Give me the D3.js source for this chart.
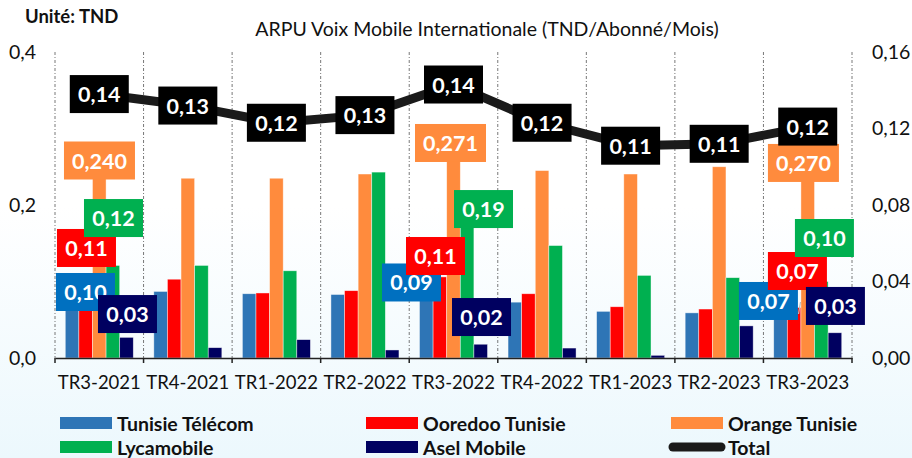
<!DOCTYPE html>
<html><head><meta charset="utf-8">
<script src="https://cdn.jsdelivr.net/npm/d3@7"></script>
<style>
html,body{margin:0;padding:0;}
body{width:912px;height:458px;overflow:hidden;}
text{font-family:Lato,"Open Sans",sans-serif;}
</style></head>
<body>
<svg id="chart" width="912" height="458"></svg>
<script>
const categories = ["TR3-2021","TR4-2021","TR1-2022","TR2-2022","TR3-2022","TR4-2022","TR1-2023","TR2-2023","TR3-2023"];
const tunisieTelecom = [0.097,0.087,0.084,0.083,0.088,0.073,0.061,0.059,0.068];
const ooredoo        = [0.108,0.103,0.085,0.088,0.106,0.084,0.067,0.064,0.066];
const orange         = [0.240,0.235,0.235,0.2405,0.271,0.245,0.2405,0.250,0.270];
const lycamobile     = [0.121,0.121,0.114,0.243,0.190,0.147,0.108,0.105,0.100];
const aselMobile     = [0.027,0.0135,0.024,0.0105,0.018,0.013,0.0035,0.042,0.033];
const total          = [0.138,0.132,0.123,0.127,0.143,0.123,0.111,0.112,0.121];
const leftTicks  = [0, 0.2, 0.4];
const rightTicks = [0, 0.04, 0.08, 0.12, 0.16];
const seriesNames = ["Tunisie Télécom","Ooredoo Tunisie","Orange Tunisie","Lycamobile","Asel Mobile"];
const labelledCats = [0, 4, 8];

const series = [
  {name: seriesNames[0], values: tunisieTelecom, color: "#2e75b6", box: "#0070c0", dec: 2},
  {name: seriesNames[1], values: ooredoo,        color: "#ff0000", box: "#ff0000", dec: 2},
  {name: seriesNames[2], values: orange,         color: "#ff8b3d", box: "#ff8b3d", dec: 3},
  {name: seriesNames[3], values: lycamobile,     color: "#00b050", box: "#00b050", dec: 2},
  {name: seriesNames[4], values: aselMobile,     color: "#000060", box: "#000060", dec: 2}
];
// manual label placement (dx, dy relative to bar centre / bar top), per labelled category
const labelShift = [
  [[13.4, 8.2],[0.8,-27.4],[0.2,-13.9],[0.6,-47.4],[1,-23.3]],
  [[-14.8,-8.2],[-4.4,-20.9],[-3,-7.7],[16.4,-3.6],[0.8,-27.2]],
  [[-12.1,-5],[3.3,-36.5],[-4.3,11.5],[3.1,-43.5],[0.5,-26.8]]
];

const svg = d3.select("#chart");
const defs = svg.append("defs");
const grad = defs.append("linearGradient").attr("id","bg").attr("x1",0).attr("y1",0).attr("x2",0).attr("y2",1);
grad.append("stop").attr("offset","0%").attr("stop-color","#ffffff");
grad.append("stop").attr("offset","45%").attr("stop-color","#ffffff");
grad.append("stop").attr("offset","100%").attr("stop-color","#ecf8fd");
svg.append("rect").attr("width",912).attr("height",458).attr("fill","url(#bg)");

const pLeft = 55, pRight = 852, pTop = 52, pBottom = 358;
const x0 = d3.scaleBand().domain(categories).range([pLeft, pRight]).padding(0);
const bw = x0.bandwidth();
const x1 = d3.scaleBand().domain(seriesNames).range([bw*0.116, bw*0.884]).padding(0);
const y = d3.scaleLinear().domain([0, 0.4]).range([pBottom, pTop]);
const y2 = d3.scaleLinear().domain([0, 0.16]).range([pBottom, pTop]);
const fmt = (v, d) => v.toFixed(d).replace(".", ",");

// vertical dotted gridlines at category boundaries
const bounds = categories.map(c => x0(c)).concat([pRight]);
svg.append("g").selectAll("line").data(bounds).join("line")
  .attr("x1", d => d).attr("x2", d => d).attr("y1", pTop).attr("y2", pBottom)
  .attr("stroke","#555").attr("stroke-width",0.8).attr("stroke-dasharray","3,2,1,2");

// bars
const gBars = svg.append("g");
series.forEach(s => {
  gBars.append("g").selectAll("rect").data(s.values).join("rect")
    .attr("x", (d,i) => x0(categories[i]) + x1(s.name))
    .attr("y", d => y(d))
    .attr("width", x1.bandwidth())
    .attr("height", d => pBottom - y(d))
    .attr("fill", s.color)
    .attr("stroke", "rgba(255,255,255,0.6)").attr("stroke-width", 0.7);
});

// x axis
const xAxis = d3.axisBottom(x0).tickSize(0).tickPadding(18);
const gx = svg.append("g").attr("transform", `translate(0,${pBottom})`).call(xAxis);
gx.select(".domain").attr("stroke","#222").attr("stroke-width",1.5);
gx.selectAll("text").attr("font-size","18.5px").attr("fill","#111").attr("font-family","Lato");
svg.append("g").selectAll("line").data(bounds).join("line")
  .attr("x1", d => d).attr("x2", d => d).attr("y1", pBottom).attr("y2", pBottom + 5)
  .attr("stroke","#222").attr("stroke-width",1.5);

// left axis
const yAxis = d3.axisLeft(y).tickValues(leftTicks).tickSize(0).tickFormat(d => fmt(d,1));
const gy = svg.append("g").attr("transform", `translate(36,0)`).call(yAxis);
gy.select(".domain").remove();
gy.selectAll("text").attr("font-size","19.5px").attr("fill","#111").attr("x",0);

// right axis
const y2Axis = d3.axisRight(y2).tickValues(rightTicks).tickSize(0).tickFormat(d => fmt(d,2));
const gy2 = svg.append("g").attr("transform", `translate(872,0)`).call(y2Axis);
gy2.select(".domain").remove();
gy2.selectAll("text").attr("font-size","19.5px").attr("fill","#111").attr("x",0);

// total line
const cx = c => x0(c) + bw/2;
const line = d3.line().x((d,i) => cx(categories[i])).y(d => y2(d));
svg.append("path").datum(total).attr("d", line)
  .attr("fill","none").attr("stroke","#1a1a1a").attr("stroke-width",9).attr("stroke-linejoin","round");

// label helper
function boxLabel(g, xc, yc, txt, fill) {
  const w = txt.length > 4 ? 71 : 59, h = 38;
  g.append("rect").attr("x", xc - w/2).attr("y", yc - h/2).attr("width", w).attr("height", h).attr("fill", fill);
  g.append("text").attr("x", xc).attr("y", yc).attr("text-anchor","middle").attr("dominant-baseline","central")
    .attr("font-size","21.5px").attr("font-weight","bold").attr("fill","#fff").text(txt);
}

// bar labels
const gLab = svg.append("g");
labelledCats.forEach((ci, k) => {
  series.forEach((s, j) => {
    const v = s.values[ci];
    const bx = x0(categories[ci]) + x1(s.name) + x1.bandwidth()/2;
    const [dx, dy] = labelShift[k][j];
    boxLabel(gLab, bx + dx, y(v) + dy, fmt(v, s.dec), s.box);
  });
});
// leader line
{
  const ci = 8;
  const bx = x0(categories[ci]) + x1(seriesNames[0]) + x1.bandwidth()/2;
  gLab.append("line").attr("x1", bx + 18).attr("y1", y(tunisieTelecom[ci]) + 8)
    .attr("x2", bx + 20).attr("y2", y(tunisieTelecom[ci]) - 4).attr("stroke","#bbb").attr("stroke-width",1.2);
}

// total labels
const gTot = svg.append("g");
total.forEach((v, i) => boxLabel(gTot, cx(categories[i]), y2(v), fmt(v,2), "#000"));

// title
svg.append("text").attr("x", 487).attr("y", 36).attr("text-anchor","middle")
  .attr("font-size","19.5px").attr("fill","#111").text("ARPU Voix Mobile Internationale (TND/Abonné/Mois)");
svg.append("text").attr("x", 25).attr("y", 23).attr("font-size","18.5px").attr("font-weight","bold")
  .attr("fill","#111").text("Unité: TND");

// legend
const legendItems = [
  {name: seriesNames[0], color: series[0].color, x: 60, row: 0},
  {name: seriesNames[1], color: series[1].color, x: 366, row: 0},
  {name: seriesNames[2], color: series[2].color, x: 671, row: 0},
  {name: seriesNames[3], color: series[3].color, x: 60, row: 1},
  {name: seriesNames[4], color: series[4].color, x: 366, row: 1},
  {name: "Total", color: "#1a1a1a", x: 671, row: 1, line: true}
];
const gLeg = svg.append("g");
legendItems.forEach(it => {
  const yc = 423 + it.row * 24;
  if (it.line) {
    gLeg.append("line").attr("x1", it.x + 2).attr("x2", it.x + 50).attr("y1", yc).attr("y2", yc)
      .attr("stroke", it.color).attr("stroke-width", 9).attr("stroke-linecap","round");
  } else {
    gLeg.append("rect").attr("x", it.x).attr("y", yc - 6).attr("width", 52).attr("height", 12).attr("fill", it.color);
  }
  gLeg.append("text").attr("x", it.x + 57).attr("y", yc).attr("dominant-baseline","central")
    .attr("font-size","19.5px").attr("font-weight","bold").attr("fill","#111").text(it.name);
});
</script>
</body></html>
